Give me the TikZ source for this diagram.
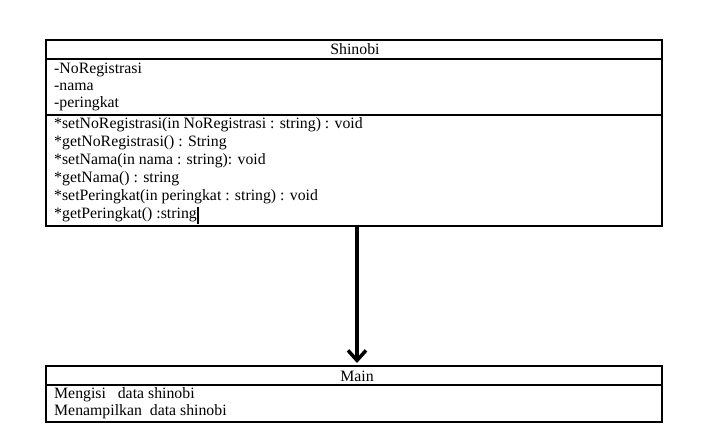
\documentclass[tikz,border=0pt]{standalone}
\usepackage{fontspec}
\setmainfont{Liberation Serif}
\usetikzlibrary{arrows.meta}
\begin{document}
\begin{tikzpicture}[x=1pt,y=-1pt,
  box/.style={draw=black,line width=1.2pt},
  txt/.style={anchor=west,inner sep=0pt,font=\fontsize{15.8}{18}\selectfont},
  ttl/.style={anchor=center,inner sep=0pt,font=\fontsize{15.8}{18}\selectfont}]
\useasboundingbox[fill=white] (0,0) rectangle (723,445);
% Shinobi class
\draw[box] (46,40) rectangle (662,226);
\draw[box] (46,59) -- (662,59);
\draw[box] (46,115) -- (662,115);
\node[ttl] (shtitle) at (355,49.5) {Shinobi};
\node[txt] (a1) at (54,70) {-NoRegistrasi};
\node[txt] (a2) at (54,87) {-nama};
\node[txt] (a3) at (54,104) {-peringkat};
\node[txt] (m1) at (54,125) {*setNoRegistrasi(in NoRegistrasi : string) : void};
\node[txt] (m2) at (54,143) {*getNoRegistrasi() : String};
\node[txt] (m3) at (54,161) {*setNama(in nama : string): void};
\node[txt] (m4) at (54,179) {*getNama() : string};
\node[txt] (m5) at (54,197) {*setPeringkat(in peringkat : string) : void};
\node[txt] (m6) at (54,215) {*getPeringkat() :string};
\draw[line width=1.5pt] (m6.east) ++(1,-8) -- ++(0,17);
\coordinate (shbot) at (357,226);
% Main class
\draw[box] (46,366) rectangle (662,422);
\draw[box] (46,385) -- (662,385);
\node[ttl] (mntitle) at (357,376) {Main};
\node[txt] (b1) at (54,395) {Mengisi\ \ \ data shinobi};
\node[txt] (b2) at (54,412) {Menampilkan\ \ data shinobi};
\coordinate (mntop) at (357,363);
% arrow
\draw[line width=4pt,-{Straight Barb[length=10pt,width=18pt,line width=3.5pt]}] (shbot) -- (mntop);
\end{tikzpicture}
\end{document}
